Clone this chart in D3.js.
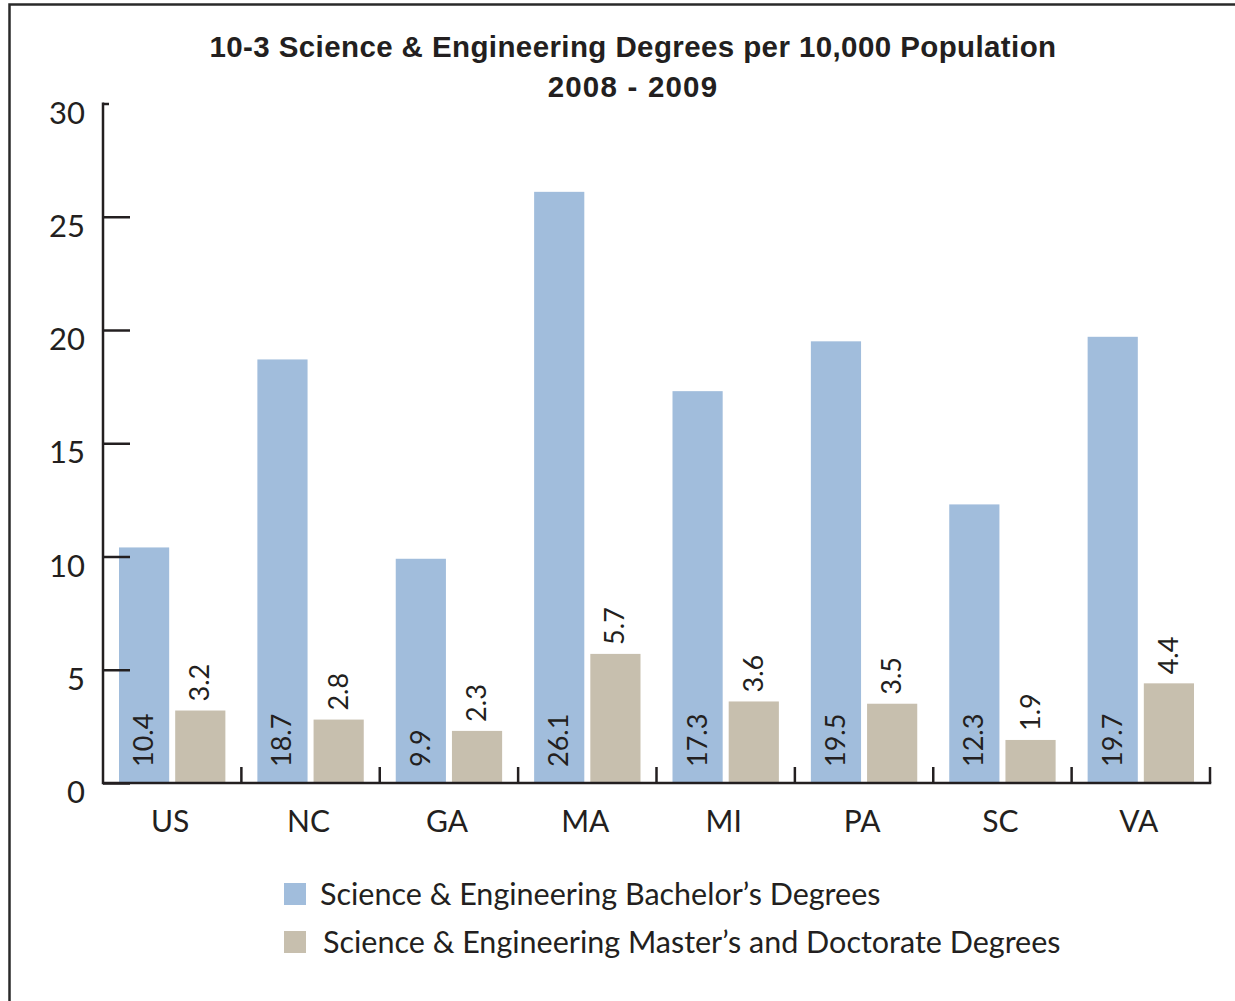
<!DOCTYPE html>
<html>
<head>
<meta charset="utf-8">
<script src="https://cdn.jsdelivr.net/npm/d3@7"></script>
<style>
  html, body { margin: 0; padding: 0; background: #fff; }
  svg { display: block; }
</style>
</head>
<body>
<svg id="chart" width="1235" height="1001"></svg>
<script>
const categories = ["US", "NC", "GA", "MA", "MI", "PA", "SC", "VA"];
const seriesKeys = ["bachelor", "masterDoctorate"];
const seriesNames = ["Science & Engineering Bachelor\u2019s Degrees", "Science & Engineering Master\u2019s and Doctorate Degrees"];
const bachelorValues = [10.4, 18.7, 9.9, 26.1, 17.3, 19.5, 12.3, 19.7];
const masterDoctorateValues = [3.2, 2.8, 2.3, 5.7, 3.6, 3.5, 1.9, 4.4];
const yTickValues = [0, 5, 10, 15, 20, 25, 30];
const titleLines = ["10-3 Science & Engineering Degrees per 10,000 Population", "2008 - 2009"];

const colors = { bachelor: "#a1bddc", masterDoctorate: "#c7bfae" };
const ink = "#231f20";
const bodyFont = "Lato, 'Open Sans', sans-serif";
const titleFont = "'Liberation Sans', Arial, sans-serif";

const svg = d3.select("#chart");

// Frame
svg.append("path")
  .attr("d", "M9.5,1001 L9.5,4.5 L1235,4.5")
  .attr("fill", "none").attr("stroke", "#2a2a2a").attr("stroke-width", 2.5);

// Title
const title = svg.append("text")
  .attr("text-anchor", "middle")
  .attr("font-family", titleFont).attr("font-weight", "bold")
  .attr("fill", ink).attr("font-size", 29.5);
title.append("tspan").attr("x", 633).attr("y", 57).attr("letter-spacing", 0.4).text(titleLines[0]);
title.append("tspan").attr("x", 633).attr("y", 97).attr("letter-spacing", 1.2).text(titleLines[1]);

const plot = { left: 103, right: 1210, top: 103.5, bottom: 783 };

const y = d3.scaleLinear().domain([0, 30]).range([plot.bottom, plot.top]);
const x0 = d3.scaleBand().domain(categories).range([plot.left, plot.right]).paddingInner(0).paddingOuter(0);
const x1 = d3.scaleBand().domain(seriesKeys).range([16, x0.bandwidth() - 16]).paddingInner(0.107).paddingOuter(0);

const rows = categories.map((c, i) => ({ cat: c, bachelor: bachelorValues[i], masterDoctorate: masterDoctorateValues[i] }));

// Bars
const groups = svg.append("g").selectAll("g").data(rows).join("g")
  .attr("transform", d => `translate(${x0(d.cat)},0)`);

groups.selectAll("rect").data(d => seriesKeys.map(k => ({ key: k, value: d[k] }))).join("rect")
  .attr("x", d => x1(d.key))
  .attr("width", x1.bandwidth())
  .attr("y", d => y(d.value))
  .attr("height", d => y(0) - y(d.value))
  .attr("fill", d => colors[d.key]);

// Value labels
groups.selectAll("text.val").data(d => seriesKeys.map(k => ({ key: k, value: d[k] }))).join("text")
  .attr("class", "val")
  .attr("transform", d => {
    const cx = x1(d.key) + x1.bandwidth() / 2;
    const yy = d.key === "bachelor" ? y(0) - 16 : y(d.value) - 9;
    return `translate(${cx + 9},${yy}) rotate(-90)`;
  })
  .attr("text-anchor", "start")
  .attr("font-family", bodyFont).attr("font-size", 27)
  .attr("fill", ink)
  .text(d => d.value.toFixed(1));

// Y axis
const yAxis = d3.axisRight(y).tickValues(yTickValues).tickSize(27).tickFormat("");
const yG = svg.append("g").attr("transform", `translate(${plot.left},0)`).call(yAxis);
yG.select(".domain").remove();
yG.selectAll(".tick line").attr("stroke", ink).attr("stroke-width", 2.5)
  .attr("x2", d => d === 30 ? 6 : 27);
svg.append("line")
  .attr("x1", plot.left).attr("x2", plot.left)
  .attr("y1", plot.top - 1).attr("y2", plot.bottom + 1.25)
  .attr("stroke", ink).attr("stroke-width", 2.5);

// Y tick labels
svg.append("g").selectAll("text").data(yTickValues).join("text")
  .attr("x", 85).attr("y", d => y(d) + 20)
  .attr("text-anchor", "end")
  .attr("font-family", bodyFont).attr("font-size", 31)
  .attr("fill", ink)
  .text(d => d);

// X axis baseline + group ticks
svg.append("line")
  .attr("x1", plot.left).attr("x2", plot.right + 1.25)
  .attr("y1", plot.bottom).attr("y2", plot.bottom)
  .attr("stroke", ink).attr("stroke-width", 2.5);
svg.append("g").selectAll("line").data(categories).join("line")
  .attr("x1", d => x0(d) + x0.bandwidth()).attr("x2", d => x0(d) + x0.bandwidth())
  .attr("y1", plot.bottom).attr("y2", plot.bottom - 16)
  .attr("stroke", ink).attr("stroke-width", 2.5);

// X labels
svg.append("g").selectAll("text").data(categories).join("text")
  .attr("x", d => x0(d) + x0.bandwidth() / 2 - 2)
  .attr("y", 832)
  .attr("text-anchor", "middle")
  .attr("font-family", bodyFont).attr("font-size", 30)
  .attr("fill", ink)
  .text(d => d);

// Legend
const legend = svg.append("g").selectAll("g").data(seriesKeys).join("g")
  .attr("transform", (d, i) => `translate(284,${883 + i * 48})`);
legend.append("rect").attr("width", 22).attr("height", 22).attr("fill", d => colors[d]);
legend.append("text")
  .attr("x", (d, i) => i === 0 ? 36 : 39).attr("y", 22)
  .attr("font-family", bodyFont).attr("font-size", 30.5)
  .attr("fill", ink)
  .text((d, i) => seriesNames[i]);
</script>
</body>
</html>
